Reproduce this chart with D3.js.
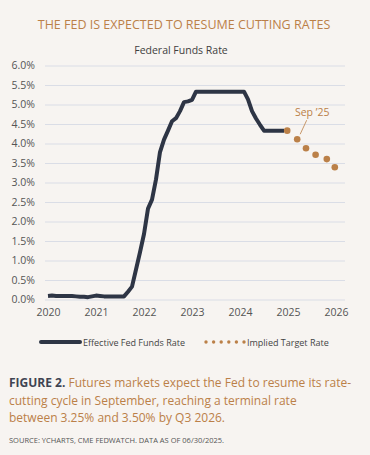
<!DOCTYPE html>
<html>
<head>
<meta charset="utf-8">
<script src="https://cdn.jsdelivr.net/npm/d3@7"></script>
<style>
  body { margin: 0; background: #f7f4f1; }
  svg { display: block; font-family: "Open Sans", sans-serif; }
</style>
</head>
<body>
<div class="chart"></div>
<script>
// Monthly effective fed funds rate, month index 0 = first point of the x axis
let effMonths = d3.range(0, 60)
let effRates = [
  0.09, 0.10, 0.09, 0.09, 0.09, 0.09, 0.09, 0.08, 0.07, 0.07, 0.06, 0.08,
  0.10, 0.09, 0.08, 0.08, 0.08, 0.08, 0.08, 0.08, 0.20, 0.33, 0.77, 1.21,
  1.68, 2.33, 2.56, 3.08, 3.78, 4.10, 4.33, 4.57, 4.65, 4.83, 5.06, 5.08,
  5.12, 5.33, 5.33, 5.33, 5.33, 5.33, 5.33, 5.33, 5.33, 5.33, 5.33, 5.33,
  5.33, 5.33, 5.13, 4.83, 4.64, 4.48, 4.33, 4.33, 4.33, 4.33, 4.33, 4.33
]
// Implied target rate (futures), same month index
let impliedMonths = [59.8, 62.3, 64.5, 66.9, 69.7, 71.7]
let impliedRates = [4.33, 4.11, 3.88, 3.71, 3.60, 3.39]

let yearLabels = ["2020", "2021", "2022", "2023", "2024", "2025", "2026"]
let yTicks = d3.range(0, 6.01, 0.5)

let w = 370
let h = 455
let orange = "#bb8048"
let navy = "#2e3545"

let svg = d3.select(".chart")
            .append("svg")
            .attr("width", w)
            .attr("height", h)

svg.append("rect").attr("width", w).attr("height", h).attr("fill", "#f7f4f1")

svg.append("text")
   .attr("x", 184).attr("y", 29)
   .attr("text-anchor", "middle")
   .attr("fill", orange)
   .style("font-size", "12.5px")
   .text("THE FED IS EXPECTED TO RESUME CUTTING RATES")

svg.append("text")
   .attr("x", 181).attr("y", 54)
   .attr("text-anchor", "middle")
   .attr("fill", "#404040")
   .style("font-size", "10.5px")
   .text("Federal Funds Rate")

let x = d3.scaleLinear().domain([0, 72]).range([48, 336])
let y = d3.scaleLinear().domain([0, 6]).range([299.5, 65.5])

// gridlines + y axis labels
let yAxis = d3.axisLeft(y)
  .tickValues(yTicks)
  .tickSize(-300)
  .tickPadding(10)
  .tickFormat(d => d.toFixed(1) + "%")

let gy = svg.append("g")
  .attr("transform", "translate(45,0)")
  .call(yAxis)
gy.select(".domain").remove()
gy.selectAll("line").attr("stroke", "#dadde6").attr("stroke-width", 1)
gy.selectAll("text")
  .attr("fill", "#555")
  .attr("x", -10)
  .style("font-size", "10.5px")
  .style("font-family", "Open Sans")

// x axis labels, one per year
let xAxis = d3.axisBottom(x)
  .tickValues(d3.range(0, 73, 12))
  .tickSize(0)
  .tickPadding(9)
  .tickFormat((d, i) => yearLabels[i])

let gx = svg.append("g")
  .attr("transform", "translate(0,299.5)")
  .call(xAxis)
gx.select(".domain").remove()
gx.selectAll("text")
  .attr("fill", "#555")
  .style("font-size", "10.5px")
  .style("font-family", "Open Sans")

let line = d3.line()
  .x((d, i) => x(effMonths[i]))
  .y(d => y(d))

svg.append("path")
  .datum(effRates)
  .attr("d", line)
  .attr("fill", "none")
  .attr("stroke", navy)
  .attr("stroke-width", 4)
  .attr("stroke-linejoin", "round")

svg.selectAll(".implied")
  .data(impliedRates)
  .enter()
  .append("circle")
  .attr("class", "implied")
  .attr("cx", (d, i) => x(impliedMonths[i]))
  .attr("cy", d => y(d))
  .attr("r", 3.3)
  .attr("fill", orange)

// Sep '25 callout on the second dot
let sx = x(impliedMonths[1])
let sy = y(impliedRates[1])
svg.append("line")
   .attr("x1", sx + 3).attr("y1", sy - 5)
   .attr("x2", sx + 9.5).attr("y2", sy - 19)
   .attr("stroke", orange)
   .attr("stroke-width", 0.8)
svg.append("text")
   .attr("x", sx + 15).attr("y", sy - 23)
   .attr("text-anchor", "middle")
   .attr("fill", orange)
   .style("font-size", "10.5px")
   .text("Sep \u201925")

// legend
let legend = svg.append("g")
legend.append("line")
  .attr("x1", 41).attr("x2", 80).attr("y1", 342).attr("y2", 342)
  .attr("stroke", navy).attr("stroke-width", 4).attr("stroke-linecap", "round")
legend.append("text")
  .attr("x", 83).attr("y", 345.5)
  .attr("fill", "#444")
  .style("font-size", "9px")
  .text("Effective Fed Funds Rate")
legend.selectAll(".ldot")
  .data(d3.range(6))
  .enter()
  .append("circle")
  .attr("cx", d => 206 + d * 7.6)
  .attr("cy", 342)
  .attr("r", 1.7)
  .attr("fill", orange)
legend.append("text")
  .attr("x", 247).attr("y", 345.5)
  .attr("fill", "#444")
  .style("font-size", "9px")
  .text("Implied Target Rate")

// caption
let cap = svg.append("text")
  .attr("x", 9).attr("y", 386.5)
  .style("font-size", "12px")
cap.append("tspan")
  .attr("fill", "#3f4452")
  .attr("font-weight", "bold")
  .text("FIGURE 2. ")
cap.append("tspan")
  .attr("fill", orange)
  .text("Futures markets expect the Fed to resume its rate-")

let capLines = ["cutting cycle in September, reaching a terminal rate",
                "between 3.25% and 3.50% by Q3 2026."]
svg.selectAll(".capline")
  .data(capLines)
  .enter()
  .append("text")
  .attr("x", 9)
  .attr("y", (d, i) => 404.5 + i * 17.8)
  .attr("fill", orange)
  .style("font-size", "12px")
  .text(d => d)

svg.append("text")
   .attr("x", 9).attr("y", 443)
   .attr("fill", "#555")
   .style("font-size", "7.5px")
   .text("SOURCE: YCHARTS, CME FEDWATCH.  DATA AS OF 06/30/2025.")
</script>
</body>
</html>
